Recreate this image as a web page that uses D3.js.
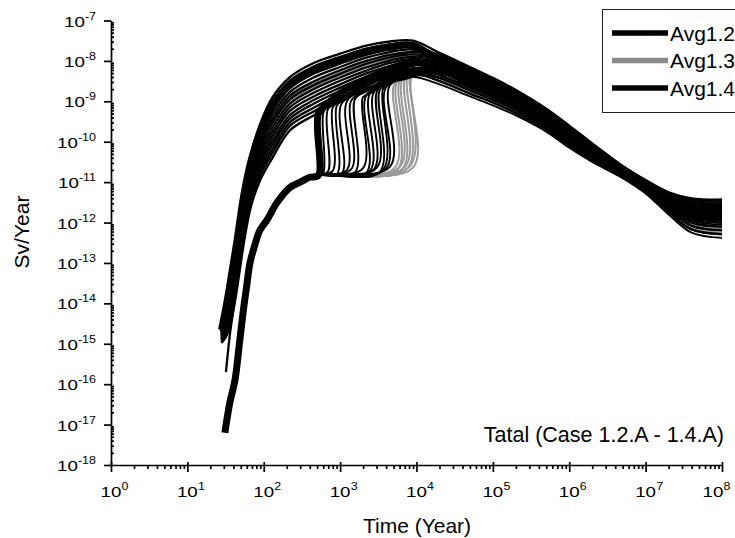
<!DOCTYPE html>
<html><head><meta charset="utf-8">
<script src="https://cdn.jsdelivr.net/npm/d3@7"></script>
<style>
html,body{margin:0;padding:0;background:#fff;}
svg{display:block;font-family:Arial,"Liberation Sans",Helvetica,sans-serif;}
</style></head><body>
<svg id="chart" width="735" height="538"></svg>
<script>
// ---------------- DATA (dose given as log10(Sv/Year)) ----------------
const xTickExps = [0, 1, 2, 3, 4, 5, 6, 7, 8];
const yTickExps = [-18, -17, -16, -15, -14, -13, -12, -11, -10, -9, -8, -7];
const legendLabels = ["Avg1.2", "Avg1.3", "Avg1.4"];

// Case 1.2 realisations (thin black), sampled at these times (years)
const case12Times = [28, 32, 37, 45, 55, 68, 90, 130, 220, 450, 1000, 2200, 4500, 9000,
  2e4, 5e4, 1e5, 2e5, 5e5, 1e6, 2e6, 5e6, 1e7, 2e7, 4e7, 1e8];
const case12Log = [
  [-14.7,-14.0,-13.25,-12.2,-11.1,-10.3,-9.55,-8.9,-8.4,-8.05,-7.82,-7.62,-7.52,-7.5, -7.8,-8.15,-8.42,-8.72,-9.18,-9.6,-10.04,-10.6,-10.95,-11.25,-11.4,-11.43],
  [-14.72,-14.06,-13.34,-12.3,-11.2,-10.39,-9.65,-9.01,-8.49,-8.14,-7.9,-7.7,-7.59,-7.56, -7.92,-8.26,-8.52,-8.81,-9.27,-9.68,-10.11,-10.65,-11.0,-11.33,-11.53,-11.57],
  [-14.74,-14.13,-13.44,-12.4,-11.3,-10.48,-9.75,-9.11,-8.58,-8.23,-7.99,-7.77,-7.65,-7.61, -7.88,-8.22,-8.49,-8.78,-9.24,-9.66,-10.09,-10.63,-10.98,-11.31,-11.49,-11.53],
  [-14.76,-14.19,-13.53,-12.49,-11.39,-10.57,-9.84,-9.22,-8.68,-8.32,-8.07,-7.85,-7.72,-7.67, -8.19,-8.52,-8.76,-9.04,-9.47,-9.88,-10.27,-10.75,-11.12,-11.53,-11.83,-11.91],
  [-14.78,-14.25,-13.63,-12.59,-11.49,-10.66,-9.94,-9.32,-8.77,-8.41,-8.15,-7.92,-7.78,-7.72, -8.03,-8.37,-8.62,-8.91,-9.35,-9.77,-10.18,-10.69,-11.05,-11.42,-11.66,-11.72],
  [-14.81,-14.32,-13.72,-12.69,-11.59,-10.76,-10.04,-9.43,-8.86,-8.51,-8.23,-8.0,-7.85,-7.78, -7.84,-8.19,-8.45,-8.75,-9.21,-9.63,-10.06,-10.62,-10.97,-11.28,-11.44,-11.48],
  [-14.83,-14.38,-13.82,-12.79,-11.69,-10.85,-10.14,-9.53,-8.95,-8.6,-8.32,-8.07,-7.91,-7.84, -7.96,-8.3,-8.56,-8.85,-9.29,-9.71,-10.13,-10.66,-11.02,-11.36,-11.57,-11.62],
  [-14.85,-14.45,-13.93,-12.9,-11.8,-10.95,-10.25,-9.65,-9.06,-8.7,-8.41,-8.16,-7.99,-7.9, -8.07,-8.41,-8.66,-8.94,-9.38,-9.79,-10.2,-10.71,-11.07,-11.44,-11.7,-11.76],
  [-14.87,-14.51,-14.02,-13.0,-11.9,-11.04,-10.35,-9.76,-9.15,-8.79,-8.49,-8.24,-8.05,-7.96, -8.15,-8.48,-8.73,-9.0,-9.44,-9.85,-10.25,-10.74,-11.1,-11.5,-11.78,-11.86],
  [-14.89,-14.58,-14.11,-13.1,-12.0,-11.13,-10.45,-9.86,-9.24,-8.88,-8.58,-8.31,-8.12,-8.01, -8.35,-8.66,-8.9,-9.16,-9.58,-9.99,-10.36,-10.81,-11.18,-11.64,-12.0,-12.1],
  [-14.91,-14.64,-14.21,-13.19,-12.09,-11.22,-10.54,-9.97,-9.34,-8.97,-8.66,-8.39,-8.18,-8.07, -8.11,-8.44,-8.69,-8.97,-9.41,-9.82,-10.22,-10.72,-11.08,-11.47,-11.74,-11.81],
  [-14.93,-14.7,-14.3,-13.29,-12.19,-11.31,-10.64,-10.07,-9.43,-9.06,-8.74,-8.46,-8.25,-8.12, -8.0,-8.33,-8.59,-8.88,-9.32,-9.74,-10.16,-10.68,-11.03,-11.39,-11.61,-11.67],
  [-14.96,-14.77,-14.4,-13.39,-12.29,-11.41,-10.74,-10.18,-9.52,-9.16,-8.82,-8.54,-8.31,-8.18, -8.27,-8.59,-8.83,-9.1,-9.52,-9.93,-10.32,-10.78,-11.15,-11.58,-11.91,-12.0],
  [-14.98,-14.83,-14.49,-13.49,-12.39,-11.5,-10.84,-10.28,-9.61,-9.25,-8.91,-8.61,-8.38,-8.24, -8.42,-8.73,-8.96,-9.22,-9.64,-10.04,-10.41,-10.84,-11.21,-11.69,-12.08,-12.19],
  [null,-15.7,-14.6,-13.6,-12.5,-11.6,-10.95,-10.4,-9.72,-9.35,-9.0,-8.7,-8.45,-8.3, -8.5,-8.81,-9.03,-9.29,-9.69,-10.1,-10.45,-10.87,-11.25,-11.75,-12.17,-12.29]
];

// Times shared by the decaying tails of case 1.3 / 1.4 realisations
const tailTimes = [2e4, 5e4, 1e5, 2e5, 5e5, 1e6, 2e6, 5e6, 1e7, 2e7, 4e7, 1e8];

// Case 1.4 realisations (thin black): [year, log10 dose] up to 9000 y, with their release jumps
const case14Rise = [
  [[220,-11.13],[512,-10.83],[600,-10.78],[600,-9.3],[700,-9.05],[1000,-8.8],[2200,-8.45],[4500,-8.2],[9000,-7.95]],
  [[220,-11.13],[512,-10.83],[692,-10.74],[692,-9.2],[1000,-8.95],[2200,-8.55],[4500,-8.3],[9000,-8.1]],
  [[220,-11.13],[512,-10.83],[908,-10.8],[908,-9.1],[1200,-8.95],[2200,-8.6],[4500,-8.35],[9000,-8.2]],
  [[220,-11.13],[512,-10.83],[1227,-10.7],[1227,-9.0],[2200,-8.65],[4500,-8.3],[9000,-8.1]],
  [[220,-11.13],[512,-10.83],[1563,-10.76],[1563,-8.95],[2200,-8.75],[4500,-8.4],[9000,-8.25]],
  [[220,-11.13],[512,-10.83],[1988,-10.66],[1988,-8.9],[2500,-8.8],[4500,-8.45],[9000,-8.3]],
  [[220,-11.13],[512,-10.83],[2455,-10.72],[2455,-8.8],[4500,-8.5],[9000,-8.35]],
  [[220,-11.13],[512,-10.83],[3034,-10.64],[3034,-8.75],[4500,-8.45],[9000,-8.25]],
  [[220,-11.13],[512,-10.83],[3633,-10.7],[3633,-8.7],[4500,-8.55],[9000,-8.4]],
  [[220,-11.13],[512,-10.83],[4487,-10.62],[4487,-8.6],[9000,-8.35]],
  [[220,-11.13],[512,-10.83],[800,-10.72],[800,-9.15],[1000,-9.0],[2200,-8.62],[4500,-8.38],[9000,-8.22]],
  [[220,-11.13],[512,-10.83],[1050,-10.79],[1050,-9.05],[2200,-8.7],[4500,-8.42],[9000,-8.28]],
  [[220,-11.13],[512,-10.83],[1400,-10.68],[1400,-8.98],[2200,-8.75],[4500,-8.45],[9000,-8.3]],
  [[220,-11.13],[512,-10.83],[2200,-10.77],[2200,-8.85],[4500,-8.5],[9000,-8.32]],
  [[220,-11.13],[512,-10.83],[2750,-10.69],[2750,-8.78],[4500,-8.52],[9000,-8.36]],
  [[220,-11.13],[512,-10.83],[3300,-10.75],[3300,-8.72],[4500,-8.55],[9000,-8.38]],
  [[220,-11.13],[512,-10.83],[4000,-10.66],[4000,-8.65],[9000,-8.37]]
];
const case14Tail = [
  [-7.84,-8.19,-8.45,-8.75,-9.21,-9.63,-10.06,-10.62,-10.97,-11.28,-11.44,-11.48],
  [-8.07,-8.41,-8.66,-8.94,-9.38,-9.79,-10.2,-10.71,-11.07,-11.44,-11.7,-11.76],
  [-8.19,-8.52,-8.76,-9.04,-9.47,-9.88,-10.27,-10.75,-11.12,-11.53,-11.83,-11.91],
  [-8.0,-8.33,-8.59,-8.88,-9.32,-9.74,-10.16,-10.68,-11.03,-11.39,-11.61,-11.67],
  [-8.35,-8.66,-8.9,-9.16,-9.58,-9.99,-10.36,-10.81,-11.18,-11.64,-12.0,-12.1],
  [-8.23,-8.55,-8.79,-9.07,-9.49,-9.9,-10.29,-10.77,-11.13,-11.55,-11.87,-11.95],
  [-8.42,-8.73,-8.96,-9.22,-9.64,-10.04,-10.41,-10.84,-11.21,-11.69,-12.08,-12.19],
  [-8.03,-8.37,-8.62,-8.91,-9.35,-9.77,-10.18,-10.69,-11.05,-11.42,-11.66,-11.72],
  [-8.58,-8.88,-9.1,-9.35,-9.75,-10.15,-10.5,-10.9,-11.28,-11.8,-12.25,-12.38],
  [-8.31,-8.62,-8.86,-9.13,-9.55,-9.96,-10.34,-10.8,-11.16,-11.61,-11.95,-12.05],
  [-8.15,-8.48,-8.73,-9.0,-9.44,-9.85,-10.25,-10.74,-11.1,-11.5,-11.78,-11.86],
  [-8.27,-8.59,-8.83,-9.1,-9.52,-9.93,-10.32,-10.78,-11.15,-11.58,-11.91,-12.0],
  [-7.92,-8.26,-8.52,-8.81,-9.27,-9.68,-10.11,-10.65,-11.0,-11.33,-11.53,-11.57],
  [-8.5,-8.81,-9.03,-9.29,-9.69,-10.1,-10.45,-10.87,-11.25,-11.75,-12.17,-12.29],
  [-8.11,-8.44,-8.69,-8.97,-9.41,-9.82,-10.22,-10.72,-11.08,-11.47,-11.74,-11.81],
  [-7.96,-8.3,-8.56,-8.85,-9.29,-9.71,-10.13,-10.66,-11.02,-11.36,-11.57,-11.62],
  [-8.22,-8.54,-8.78,-9.06,-9.48,-9.89,-10.28,-10.76,-11.12,-11.54,-11.86,-11.94]
];

// Case 1.3 realisations (thin grey)
const case13Rise = [
  [[220,-11.13],[512,-10.83],[5212,-10.64],[5212,-8.55],[9000,-8.4]],
  [[220,-11.13],[512,-10.83],[5600,-10.7],[5600,-8.52],[9000,-8.38]],
  [[220,-11.13],[512,-10.83],[6067,-10.62],[6067,-8.5],[9000,-8.35]],
  [[220,-11.13],[512,-10.83],[6500,-10.68],[6500,-8.48],[9000,-8.33]],
  [[220,-11.13],[512,-10.83],[7047,-10.63],[7047,-8.45],[9000,-8.3]],
  [[220,-11.13],[512,-10.83],[7600,-10.66],[7600,-8.4],[9000,-8.3]],
  [[220,-11.13],[512,-10.83],[8200,-10.61],[8200,-8.35],[9000,-8.32]],
  [[220,-11.13],[512,-10.83],[8970,-10.64],[8970,-8.3]]
];
const case13Tail = [
  [-8.39,-8.7,-8.93,-9.19,-9.61,-10.01,-10.39,-10.83,-11.2,-11.66,-12.04,-12.14],
  [-8.27,-8.59,-8.83,-9.1,-9.52,-9.93,-10.32,-10.78,-11.15,-11.58,-11.91,-12.0],
  [-8.11,-8.44,-8.69,-8.97,-9.41,-9.82,-10.22,-10.72,-11.08,-11.47,-11.74,-11.81],
  [-8.03,-8.37,-8.62,-8.91,-9.35,-9.77,-10.18,-10.69,-11.05,-11.42,-11.66,-11.72],
  [-8.46,-8.77,-9.0,-9.26,-9.66,-10.07,-10.43,-10.86,-11.23,-11.72,-12.12,-12.24],
  [-7.88,-8.22,-8.49,-8.78,-9.24,-9.66,-10.09,-10.63,-10.98,-11.31,-11.49,-11.53],
  [-8.19,-8.52,-8.76,-9.04,-9.47,-9.88,-10.27,-10.75,-11.12,-11.53,-11.83,-11.91],
  [-7.96,-8.3,-8.56,-8.85,-9.29,-9.71,-10.13,-10.66,-11.02,-11.36,-11.57,-11.62]
];

// Averages (thick lines): [year, log10 dose]
const avg12 = [[28,-14.65],[32,-14.1],[37,-13.4],[45,-12.4],[55,-11.3],[68,-10.48],[90,-9.75],[130,-9.1],[220,-8.58],[450,-8.22],[1000,-7.98],[2200,-7.76],[4500,-7.65],[9000,-7.62],
  [2e4,-8.0],[5e4,-8.33],[1e5,-8.59],[2e5,-8.88],[5e5,-9.32],[1e6,-9.74],[2e6,-10.16],[5e6,-10.68],[1e7,-11.03],[2e7,-11.39],[4e7,-11.61],[1e8,-11.67]];
const avg13 = [[28,-14.7],[32,-14.3],[37,-13.7],[45,-12.7],[55,-11.6],[68,-10.8],[90,-10.1],[130,-9.5],[220,-8.95],[450,-8.6],[1000,-8.3],[2200,-8.05],[4500,-7.9],[9000,-7.85],
  [2e4,-8.03],[5e4,-8.37],[1e5,-8.62],[2e5,-8.91],[5e5,-9.35],[1e6,-9.77],[2e6,-10.18],[5e6,-10.69],[1e7,-11.05],[2e7,-11.42],[4e7,-11.66],[1e8,-11.72]];
const avg14 = [[31,-17.2],[36,-16.45],[42,-15.9],[48,-15.0],[53.5,-14.24],[60,-13.55],[66,-13.0],[78,-12.5],[89,-12.19],[110,-11.94],[150,-11.5],[220,-11.13],[300,-11.0],[400,-10.88],[520,-10.83],
  [520,-9.3],[700,-9.05],[1000,-8.8],[2200,-8.45],[4500,-8.2],[9000,-8.05],
  [2e4,-8.11],[5e4,-8.44],[1e5,-8.69],[2e5,-8.97],[5e5,-9.41],[1e6,-9.82],[2e6,-10.22],[5e6,-10.72],[1e7,-11.08],[2e7,-11.47],[4e7,-11.74],[1e8,-11.81]];

// ---------------- DRAWING ----------------
const svg = d3.select("#chart");
svg.append("rect").attr("width", 735).attr("height", 538).attr("fill", "#fff");

const x = d3.scaleLog().domain([1, 1e8]).range([111, 722]);
const y = d3.scaleLog().domain([1e-18, 1e-7]).range([465, 20.5]);

const line = d3.line()
  .defined(d => d[1] !== null)
  .x(d => x(d[0]))
  .y(d => y(Math.pow(10, d[1])))
  .curve(d3.curveCatmullRom.alpha(0.5));

const case12Series = case12Log.map(vals => case12Times.map((t, i) => [t, vals[i]]));
const case14Series = case14Rise.map((r, k) => r.concat(tailTimes.map((t, i) => [t, case14Tail[k][i]])));
const case13Series = case13Rise.map((r, k) => r.concat(tailTimes.map((t, i) => [t, case13Tail[k][i]])));

const plot = svg.append("g").attr("fill", "none").attr("stroke-linejoin", "round");

plot.append("path").datum(avg13).attr("d", line)
  .attr("stroke", "#8a8a8a").attr("stroke-width", 6);

plot.selectAll(".c13").data(case13Series).join("path").attr("class", "c13")
  .attr("d", line).attr("stroke", "#9a9a9a").attr("stroke-width", 2);

plot.selectAll(".c14").data(case14Series).join("path").attr("class", "c14")
  .attr("d", line).attr("stroke", "#000").attr("stroke-width", 1.9);

plot.selectAll(".c12").data(case12Series).join("path").attr("class", "c12")
  .attr("d", line).attr("stroke", "#000").attr("stroke-width", 2.3);

plot.append("path").datum(avg12).attr("d", line)
  .attr("stroke", "#000").attr("stroke-width", 7);
plot.append("path").datum(avg14).attr("d", line)
  .attr("stroke", "#000").attr("stroke-width", 7);

// ---- axes ----
const majorY = yTickExps.map(e => Math.pow(10, e));
const majorX = xTickExps.map(e => Math.pow(10, e));
const minorY = [], minorX = [];
for (let e = -18; e < -7; e++) for (let m = 2; m <= 9; m++) minorY.push(m * Math.pow(10, e));
for (let e = 0; e < 8; e++) for (let m = 2; m <= 9; m++) minorX.push(m * Math.pow(10, e));

function styleAxis(g) {
  g.selectAll("path,line").attr("stroke", "#000").attr("stroke-width", 1.7);
  g.selectAll("text").remove();
}

svg.append("g").attr("transform", "translate(111,0)")
  .call(d3.axisLeft(y).tickValues(majorY).tickSize(7).tickSizeOuter(0).tickFormat(""))
  .call(styleAxis);
svg.append("g").attr("transform", "translate(111,0)")
  .call(d3.axisLeft(y).tickValues(minorY).tickSize(-3).tickSizeOuter(0).tickFormat(""))
  .call(styleAxis).call(g => g.select(".domain").remove());

svg.append("g").attr("transform", "translate(0,465)")
  .call(d3.axisBottom(x).tickValues(majorX).tickSize(7).tickSizeOuter(0).tickFormat(""))
  .call(styleAxis);
svg.append("g").attr("transform", "translate(0,465)")
  .call(d3.axisBottom(x).tickValues(majorX).tickSize(-3).tickSizeOuter(0).tickFormat(""))
  .call(styleAxis).call(g => g.select(".domain").remove());
svg.append("g").attr("transform", "translate(0,465)")
  .call(d3.axisBottom(x).tickValues(minorX).tickSize(4).tickSizeOuter(0).tickFormat(""))
  .call(styleAxis).call(g => g.select(".domain").remove());

// ---- tick labels (10 with superscript exponent) ----
const yl = svg.append("g").attr("fill", "#000");
yTickExps.forEach(e => {
  const g = yl.append("g").attr("transform", `translate(96,${y(Math.pow(10, e)) + 6}) scale(1.25,1)`);
  const t = g.append("text").attr("text-anchor", "end").attr("font-size", 15);
  t.append("tspan").text("10");
  t.append("tspan").attr("dy", -7).attr("font-size", 10).text(String(e));
});
const xl = svg.append("g").attr("fill", "#000");
xTickExps.forEach((e, i) => {
  const nudge = i === xTickExps.length - 1 ? -9 : 0;   // last label kept inside the frame
  const g = xl.append("g").attr("transform", `translate(${x(Math.pow(10, e)) + nudge},497) scale(1.25,1)`);
  g.append("text").attr("text-anchor", "middle").attr("font-size", 15).text("10");
  g.append("text").attr("x", 8.5).attr("y", -7).attr("font-size", 10).text(String(e));
});

// ---- titles ----
svg.append("text").attr("x", 417).attr("y", 533).attr("text-anchor", "middle")
  .attr("font-size", 21).text("Time (Year)");
svg.append("text").attr("transform", "translate(29,232) rotate(-90)").attr("text-anchor", "middle")
  .attr("font-size", 21).text("Sv/Year");
svg.append("text").attr("x", 724).attr("y", 442).attr("text-anchor", "end")
  .attr("font-size", 21.5).text("Tatal (Case 1.2.A - 1.4.A)");

// ---- legend ----
const legendColors = ["#000", "#8a8a8a", "#000"];
const lg = svg.append("g");
lg.append("rect").attr("x", 602.5).attr("y", 9.5).attr("width", 150).attr("height", 103)
  .attr("fill", "#fff").attr("stroke", "#222").attr("stroke-width", 1);
legendLabels.forEach((lab, i) => {
  const cy = 33 + i * 27.5;
  lg.append("line").attr("x1", 612).attr("x2", 668).attr("y1", cy).attr("y2", cy)
    .attr("stroke", legendColors[i]).attr("stroke-width", 5.5);
  lg.append("text").attr("x", 670).attr("y", cy + 7.5).attr("font-size", 21).text(lab);
});
</script>
</body></html>
